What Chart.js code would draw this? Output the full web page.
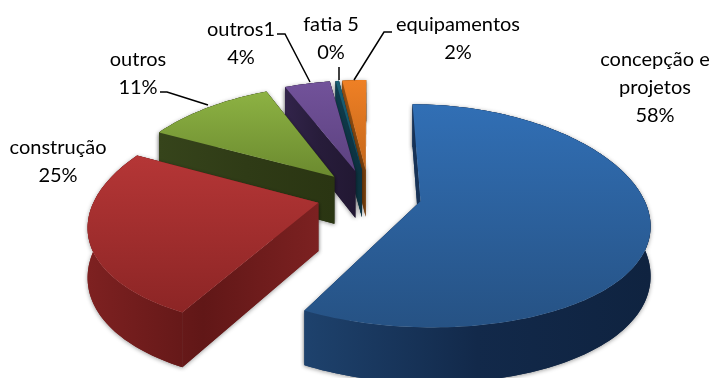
<!DOCTYPE html>
<html>
<head>
<meta charset="utf-8">
<title>Custos</title>
<script src="https://cdn.jsdelivr.net/npm/chart.js@4"></script>
<style>
  html, body { margin: 0; background: #fff; }
  canvas { display: block; }
</style>
</head>
<body>
<canvas id="pie" width="712" height="378"></canvas>
<script>
const categories = [['concepção e', 'projetos'], 'construção', 'outros', 'outros1', 'fatia 5', 'equipamentos'];
const shares = [57.8, 24.7, 11.1, 4.0, 0.3, 2.1];

// top face: far edge, near edge
const topColors = [['#316fb5', '#265284'], ['#b53636', '#8c2525'], ['#8db243', '#6b8a2f'], ['#72529a', '#5c4280'], ['#1a6075', '#144d60'], ['#ef8025', '#c4671a']];
// walls, left to right
const wallColors = [['#1e426d', '#12294a', '#0f2340'], ['#7e2121', '#611717', '#7c2121'], ['#36441b', '#2f3b16', '#2a3512'], ['#32244a', '#271c3a', '#221833'], ['#0f3d4e', '#0d3646', '#0c3240'], ['#9c5212', '#8a4a10', '#7a400c']];

// label centre x / first line y, and the leader polyline where there is one
const labelSpots = [[655, 60], [58, 148], [138, 60], [241, 30], [331, 25], [458, 25]];
const leaders = [null, null, [[160, 92], [167, 92], [208, 105]], [[277, 34], [285, 34], [310, 82]], [[339, 67], [339, 80]], [[392, 32], [384, 32], [354, 80]]];
const lineHeight = 28;

// tilted view of the pie plane: unit radius, wy grows away from the viewer
const view = { cx: 369, cy: 195, a: 222, b: 108, kx: 0.18, ky: 0.13, depth: 48 };

function project(wx, wy, down) {
  const w = 1 + view.ky * wy;
  return [view.cx + view.a * wx / (1 + view.kx * wy), view.cy + (down * view.depth - view.b * wy) / w];
}

function slice3d(arc) {
  const { startAngle, endAngle, outerRadius } = arc.getProps(['startAngle', 'endAngle', 'outerRadius'], true);
  const mid = (startAngle + endAngle) / 2;
  const e = arc.options.offset / outerRadius;
  const ox = Math.cos(mid) * e, oy = -Math.sin(mid) * e;
  const rim = [];
  const steps = Math.max(2, Math.ceil((endAngle - startAngle) * 40));
  for (let s = 0; s <= steps; s++) {
    const t = startAngle + (endAngle - startAngle) * s / steps;
    rim.push([ox + Math.cos(t), oy - Math.sin(t)]);
  }
  return { mid: oy, apex: [ox, oy], rim };
}

function polygon(ctx, pts) {
  ctx.beginPath();
  pts.forEach((p, i) => i ? ctx.lineTo(p[0], p[1]) : ctx.moveTo(p[0], p[1]));
  ctx.closePath();
}

function drawSlice(ctx, sl, i) {
  const top = [sl.apex, ...sl.rim].map(p => project(p[0], p[1], 0));
  const low = [sl.apex, ...sl.rim].map(p => project(p[0], p[1], 1));
  const xs = top.map(p => p[0]), ys = top.map(p => p[1]);
  const minX = Math.min(...xs), maxX = Math.max(...xs);

  const wall = ctx.createLinearGradient(minX, 0, maxX, 0);
  wallColors[i].forEach((c, n) => wall.addColorStop(n / 2, c));
  ctx.fillStyle = wall;

  const last = top.length - 1;
  const faces = [
    [top[0], top[1], low[1], low[0]],
    [top[0], top[last], low[last], low[0]],
    [...top.slice(1), ...low.slice(1).reverse()],
  ];
  // soft shadow first, then the walls again on top so it only shows outside
  ctx.save();
  ctx.shadowColor = 'rgba(0,0,0,0.4)';
  ctx.shadowBlur = 4;
  ctx.shadowOffsetY = 1;
  faces.forEach(f => { polygon(ctx, f); ctx.fill(); });
  ctx.restore();
  faces.forEach(f => { polygon(ctx, f); ctx.fill(); });

  const face = ctx.createLinearGradient(0, Math.min(...ys), 0, Math.max(...ys));
  face.addColorStop(0, topColors[i][0]);
  face.addColorStop(1, topColors[i][1]);
  ctx.fillStyle = face;
  polygon(ctx, top);
  ctx.fill();
}

const pie3d = {
  id: 'pie3d',
  beforeDatasetsDraw(chart) {
    const slices = chart.getDatasetMeta(0).data.map((arc, i) => ({ i, sl: slice3d(arc) }));
    slices.sort((p, q) => q.sl.mid - p.sl.mid);
    slices.forEach(({ i, sl }) => drawSlice(chart.ctx, sl, i));
    return false;
  },
  afterDraw(chart) {
    const ctx = chart.ctx;
    const total = shares.reduce((a, v) => a + v, 0);
    ctx.save();
    ctx.strokeStyle = '#000';
    ctx.lineWidth = 1.5;
    leaders.forEach(pts => {
      if (!pts) return;
      ctx.beginPath();
      pts.forEach((p, n) => n ? ctx.lineTo(p[0], p[1]) : ctx.moveTo(p[0], p[1]));
      ctx.stroke();
    });
    ctx.fillStyle = '#000';
    ctx.font = '20px Lato';
    ctx.textAlign = 'center';
    ctx.textBaseline = 'middle';
    categories.forEach((name, i) => {
      const lines = [].concat(name, Math.round(shares[i] / total * 100) + '%');
      lines.forEach((t, n) => ctx.fillText(t, labelSpots[i][0], labelSpots[i][1] + n * lineHeight));
    });
    ctx.restore();
  },
};

new Chart(document.getElementById('pie'), {
  type: 'pie',
  data: { labels: categories, datasets: [{ data: shares, backgroundColor: topColors.map(c => c[0]), offset: 40, borderWidth: 0 }] },
  options: {
    responsive: false,
    animation: false,
    plugins: { legend: { display: false }, tooltip: { enabled: false } },
  },
  plugins: [pie3d],
});
</script>
</body>
</html>
